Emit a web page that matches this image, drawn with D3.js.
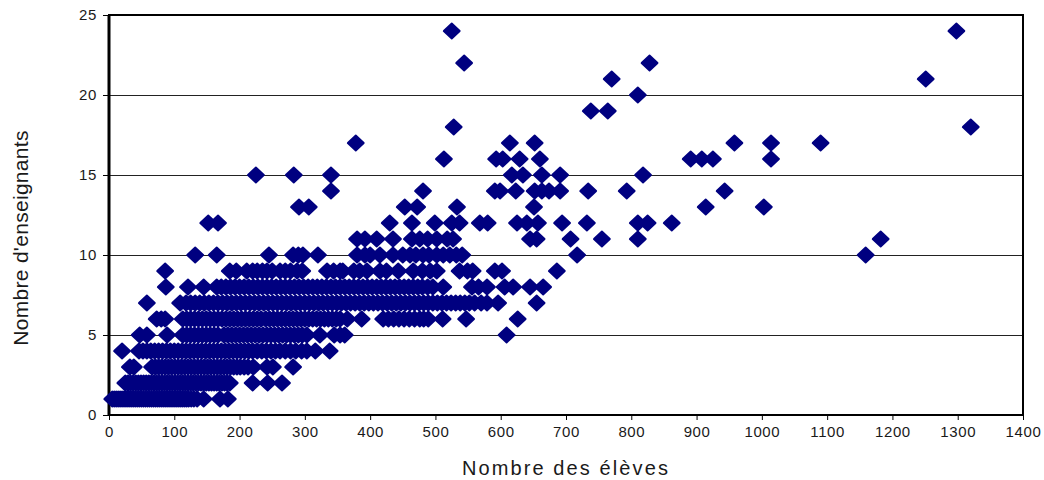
<!DOCTYPE html>
<html>
<head>
<meta charset="utf-8">
<script src="https://cdn.jsdelivr.net/npm/d3@7"></script>
<style>
body { margin: 0; background: #fff; }
svg { display: block; }
text { font-family: "Liberation Sans", Arial, sans-serif; fill: #1a1a1a; }
</style>
</head>
<body>
<svg></svg>
<script>
// x values (nombre des eleves), one list per teacher count
var eleves1 = [5, 8, 11, 14, 17, 20, 23, 26, 29, 32, 35, 38, 41, 44, 47, 50, 53, 56, 59, 62, 65, 68, 71, 74, 77, 80, 83, 86, 89, 92, 95, 98, 101, 104, 107, 110, 113, 116, 119, 122, 126, 130, 135, 145, 170, 182];
var eleves2 = [25, 29, 33, 37, 41, 45, 49, 53, 57, 61, 65, 69, 73, 77, 81, 85, 89, 93, 97, 101, 105, 109, 113, 117, 121, 125, 129, 133, 137, 141, 145, 149, 153, 157, 161, 165, 169, 173, 177, 181, 185, 220, 243, 265];
var eleves3 = [32, 38, 66, 71, 76, 81, 86, 91, 96, 101, 106, 111, 116, 121, 126, 131, 136, 141, 146, 151, 156, 161, 166, 171, 176, 181, 186, 191, 196, 201, 207, 213, 221, 242, 251, 282];
var eleves4 = [20, 46, 52, 58, 64, 70, 76, 82, 88, 94, 100, 106, 112, 118, 124, 130, 136, 142, 148, 154, 160, 166, 172, 178, 184, 190, 196, 202, 208, 214, 220, 227, 234, 241, 248, 255, 262, 270, 278, 286, 295, 303, 316, 338];
var eleves5 = [47, 58, 89, 113, 119, 125, 131, 137, 143, 149, 155, 161, 167, 176, 182, 188, 194, 200, 206, 212, 218, 224, 230, 236, 242, 248, 254, 260, 266, 272, 278, 284, 290, 296, 303, 323, 345, 354, 361, 609];
var eleves6 = [73, 80, 86, 113, 119, 125, 131, 137, 143, 149, 155, 161, 167, 173, 179, 185, 191, 197, 203, 209, 215, 221, 227, 233, 240, 246, 252, 258, 264, 270, 276, 282, 288, 294, 300, 306, 312, 318, 324, 330, 336, 342, 348, 354, 365, 387, 420, 428, 436, 444, 452, 460, 468, 476, 482, 489, 511, 547, 626];
var eleves7 = [58, 109, 118, 125, 132, 139, 146, 153, 160, 167, 174, 181, 188, 195, 202, 209, 216, 223, 230, 237, 244, 251, 258, 265, 272, 279, 286, 293, 300, 307, 314, 321, 328, 335, 342, 349, 356, 363, 370, 377, 384, 391, 398, 405, 412, 419, 426, 433, 440, 447, 454, 461, 468, 475, 482, 489, 496, 503, 510, 517, 524, 531, 538, 545, 552, 560, 570, 579, 596, 655];
var eleves8 = [87, 121, 145, 165, 172, 179, 186, 193, 200, 207, 214, 221, 228, 235, 242, 249, 256, 263, 270, 277, 284, 291, 298, 305, 312, 319, 326, 333, 340, 347, 354, 361, 368, 375, 382, 389, 396, 403, 410, 417, 424, 431, 438, 445, 452, 459, 466, 473, 480, 488, 496, 512, 556, 566, 579, 606, 619, 645, 665];
var eleves9 = [86, 185, 195, 211, 220, 227, 235, 242, 250, 262, 270, 278, 288, 296, 334, 344, 354, 358, 375, 384, 395, 415, 425, 443, 466, 480, 492, 502, 537, 549, 557, 591, 602, 686];
var eleves10 = [132, 165, 245, 282, 290, 297, 320, 380, 392, 400, 415, 435, 450, 461, 470, 481, 490, 502, 512, 522, 532, 541, 717, 1159];
var eleves11 = [380, 392, 410, 435, 464, 476, 488, 502, 518, 527, 645, 655, 707, 755, 810, 1182];
var eleves12 = [152, 167, 430, 464, 499, 525, 537, 568, 580, 625, 640, 657, 694, 732, 810, 825, 862];
var eleves13 = [291, 306, 453, 472, 533, 651, 914, 1003];
var eleves14 = [340, 481, 591, 599, 623, 652, 663, 674, 691, 734, 793, 943];
var eleves15 = [225, 283, 340, 617, 634, 663, 691, 818];
var eleves16 = [513, 593, 603, 629, 660, 891, 908, 925, 1014];
var eleves17 = [378, 614, 652, 958, 1014, 1090];
var eleves18 = [528, 1320];
var eleves19 = [738, 764];
var eleves20 = [810];
var eleves21 = [770, 1251];
var eleves22 = [544, 828];
var eleves24 = [525, 1298];

var enseignants = [1, 2, 3, 4, 5, 6, 7, 8, 9, 10, 11, 12, 13, 14, 15, 16, 17, 18, 19, 20, 21, 22, 24];
var elevesParNiveau = [eleves1, eleves2, eleves3, eleves4, eleves5, eleves6, eleves7, eleves8, eleves9, eleves10, eleves11, eleves12, eleves13, eleves14, eleves15, eleves16, eleves17, eleves18, eleves19, eleves20, eleves21, eleves22, eleves24];

var xTicks = [0, 100, 200, 300, 400, 500, 600, 700, 800, 900, 1000, 1100, 1200, 1300, 1400];
var yTicks = [0, 5, 10, 15, 20, 25];

var svgWidth = 1044, svgHeight = 480;
var plotLeft = 109, plotRight = 1023, plotTop = 15, plotBottom = 415;

var svg = d3.select('svg')
    .attr('width', svgWidth)
    .attr('height', svgHeight);

var xScale = d3.scaleLinear().domain([0, 1400]).range([plotLeft, plotRight]);
var yScale = d3.scaleLinear().domain([0, 25]).range([plotBottom, plotTop]);

// flat table of points, built from the lists above
var points = [];
enseignants.forEach(function(n, i) {
    elevesParNiveau[i].forEach(function(e) {
        points.push({eleves: e, enseignants: n});
    });
});

// horizontal gridlines
svg.append('g')
    .selectAll('line')
    .data(yTicks.slice(1, -1))
    .enter()
    .append('line')
    .attr('x1', plotLeft)
    .attr('x2', plotRight)
    .attr('y1', function(d) { return Math.round(yScale(d)) + 0.5; })
    .attr('y2', function(d) { return Math.round(yScale(d)) + 0.5; })
    .attr('stroke', '#222')
    .attr('stroke-width', 1);

// axes
var xAxis = d3.axisBottom(xScale).tickValues(xTicks).tickFormat(d3.format('d')).tickSize(5).tickPadding(6);
var yAxis = d3.axisLeft(yScale).tickValues(yTicks).tickFormat(d3.format('d')).tickSize(6).tickPadding(6);

var gx = svg.append('g').attr('transform', 'translate(0,' + plotBottom + ')').call(xAxis);
var gy = svg.append('g').attr('transform', 'translate(' + plotLeft + ',0)').call(yAxis);
gx.select('.domain').remove();
gy.select('.domain').remove();
svg.selectAll('.tick text')
    .style('font-family', '"Liberation Sans", Arial, sans-serif')
    .style('font-size', '15px')
    .style('letter-spacing', '0.6px')
    .attr('fill', '#1a1a1a');

// plot frame, heavier on the left
svg.append('rect')
    .attr('x', plotLeft)
    .attr('y', plotTop)
    .attr('width', plotRight - plotLeft)
    .attr('height', plotBottom - plotTop)
    .attr('fill', 'none')
    .attr('stroke', '#000')
    .attr('stroke-width', 2);
svg.append('line')
    .attr('x1', plotLeft)
    .attr('x2', plotLeft)
    .attr('y1', plotTop)
    .attr('y2', plotBottom)
    .attr('stroke', '#000')
    .attr('stroke-width', 3);

// markers: the rounded stroke fattens the diamonds like in the original
svg.append('g')
    .selectAll('path')
    .data(points)
    .enter()
    .append('path')
    .attr('d', 'M-8,0L0,-7.6L8,0L0,7.6Z')
    .attr('transform', function(d) {
        return 'translate(' + xScale(d.eleves) + ',' + yScale(d.enseignants) + ')';
    })
    .attr('fill', '#000080')
    .attr('stroke', '#000080')
    .attr('stroke-width', 1.8)
    .attr('stroke-linejoin', 'round');

// axis titles
svg.append('text')
    .attr('x', 566)
    .attr('y', 475)
    .attr('text-anchor', 'middle')
    .style('font-size', '20px')
    .style('letter-spacing', '2.1px')
    .text('Nombre des élèves');

svg.append('text')
    .attr('transform', 'translate(28,238) rotate(-90)')
    .attr('text-anchor', 'middle')
    .style('font-size', '21px')
    .style('letter-spacing', '0.3px')
    .text("Nombre d'enseignants");
</script>
</body>
</html>
